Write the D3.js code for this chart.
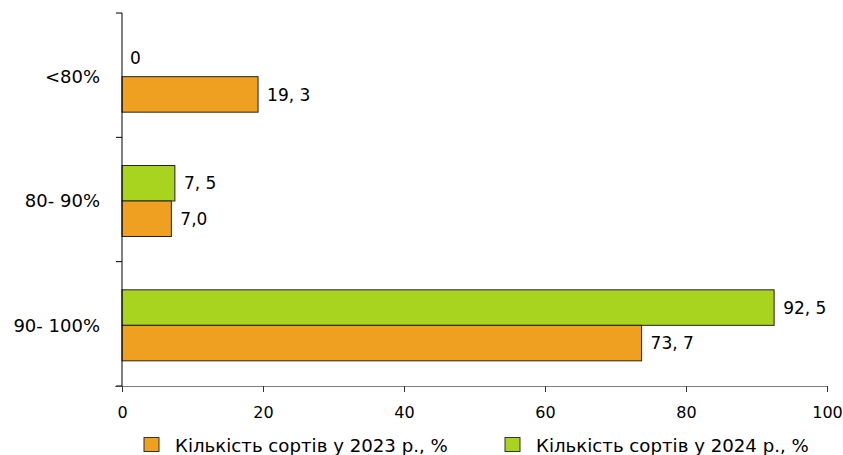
<!DOCTYPE html>
<html><head><meta charset="utf-8">
<script src="https://cdn.jsdelivr.net/npm/d3@7"></script>
<style>body{margin:0;background:#fff}svg{display:block}text{font-family:"DejaVu Sans",sans-serif;fill:#000}</style>
</head><body><svg id="c" width="843" height="455"></svg>
<script>
const categories = ["<80%", "80- 90%", "90- 100%"];
const values2023 = [19.3, 7.0, 73.7];
const values2024 = [0, 7.5, 92.5];
const labels2023 = ["19, 3", "7,0", "73, 7"];
const labels2024 = ["0", "7, 5", "92, 5"];
const seriesNames = ["Кількість сортів у 2023 р., %", "Кількість сортів у 2024 р., %"];
const xTicks = [0, 20, 40, 60, 80, 100];
const colors = ["#EFA020", "#A8D31E"];

const svg = d3.select("#c");
const x = d3.scaleLinear().domain([0, 100]).range([122, 827]);
const y = d3.scaleBand().domain(categories).range([13, 386]);
const bw = 35.5;

// bars
categories.forEach((c, i) => {
  const cy = y(c) + y.bandwidth() / 2 + 1.5;
  [[values2024[i], labels2024[i], 1, cy - bw], [values2023[i], labels2023[i], 0, cy]].forEach(([v, lab, s, top]) => {
    if (v > 0) {
      svg.append("rect").attr("x", x(0)).attr("y", top).attr("width", x(v) - x(0)).attr("height", bw)
        .attr("fill", colors[s]).attr("stroke", "#222").attr("stroke-width", 1);
    }
    svg.append("text").attr("x", x(v) + (v > 0 ? 9 : 8)).attr("y", v > 0 ? top + bw / 2 : top + bw / 2 - 1)
      .attr("dy", "0.36em").attr("font-size", 17).text(lab);
  });
});

// x axis
const xa = svg.append("g").attr("transform", "translate(0,386)")
  .call(d3.axisBottom(x).tickValues(xTicks).tickSize(6).tickPadding(15).tickFormat(d3.format("d")));
xa.select(".domain").attr("stroke", "#808080").attr("d", "M115,0.5H827");
xa.selectAll(".tick line").attr("stroke", "#333");
xa.selectAll(".tick text").attr("font-size", 16).attr("font-family", "DejaVu Sans");

// y axis
const ya = svg.append("g").attr("transform", "translate(122,0)");
ya.append("line").attr("x1", 0).attr("x2", 0).attr("y1", 13).attr("y2", 386).attr("stroke", "#000");
[13, ...categories.map(c => y(c) + y.bandwidth())].forEach(t => {
  ya.append("line").attr("x1", -6).attr("x2", 0).attr("y1", t).attr("y2", t).attr("stroke", "#000");
});
categories.forEach(c => {
  ya.append("text").attr("x", -22).attr("y", y(c) + y.bandwidth() / 2 + 1.5).attr("dy", "0.36em")
    .attr("text-anchor", "end").attr("font-size", 18).text(c);
});

// legend
const legX = [144, 505];
seriesNames.forEach((n, i) => {
  svg.append("rect").attr("x", legX[i]).attr("y", 437.5).attr("width", 15).attr("height", 14)
    .attr("fill", colors[i]).attr("stroke", "#333");
  const t = svg.append("text").attr("x", legX[i] + 31).attr("y", 445).attr("dy", "0.36em")
    .attr("font-family", "Liberation Sans Narrow").attr("font-size", 22).text(n);
  const w = t.node().getComputedTextLength();
  t.attr("font-size", 22 * 273 / w);
});
</script></body></html>
